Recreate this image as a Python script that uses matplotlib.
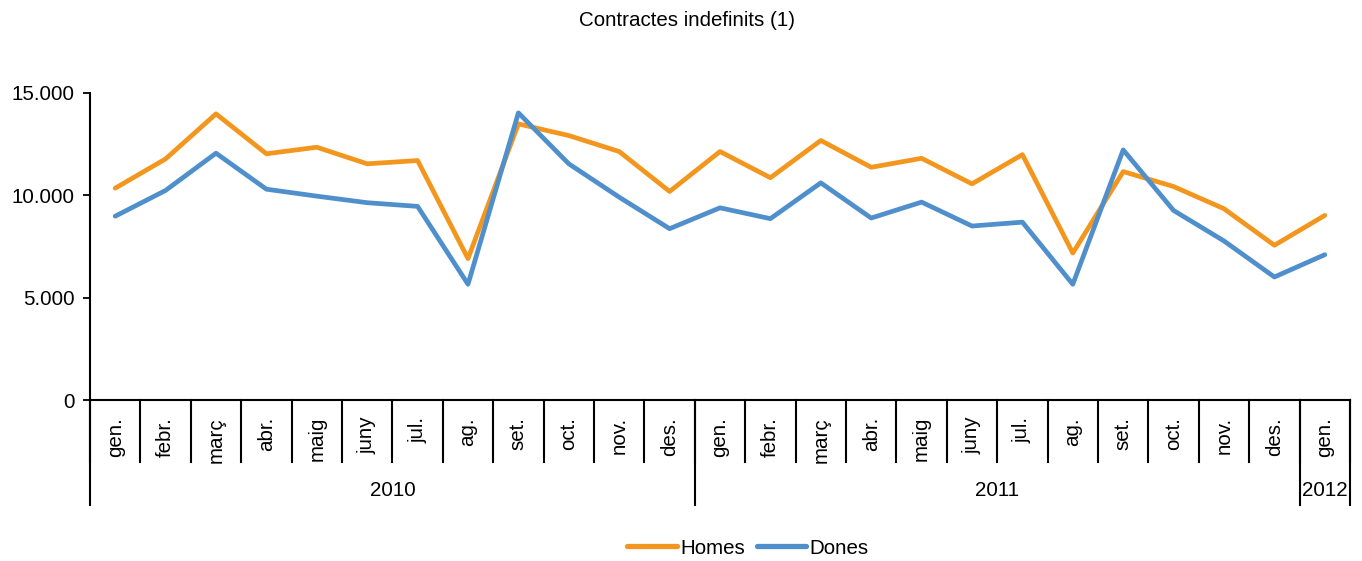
import matplotlib
matplotlib.use("Agg")
import matplotlib.pyplot as plt
import matplotlib.transforms as mtransforms
from matplotlib.lines import Line2D
from matplotlib.ticker import FuncFormatter

plt.rcParams['font.family'] = ['Liberation Sans', 'DejaVu Sans']

title = "Contractes indefinits (1)"
months = ["gen.", "febr.", "març", "abr.", "maig", "juny", "jul.", "ag.", "set.", "oct.", "nov.", "des.",
          "gen.", "febr.", "març", "abr.", "maig", "juny", "jul.", "ag.", "set.", "oct.", "nov.", "des.",
          "gen."]
years = ["2010", "2011", "2012"]
year_counts = [12, 12, 1]
homes = [10350, 11780, 13980, 12030, 12350, 11540, 11700, 6910, 13490, 12920, 12140, 10190,
         12140, 10860, 12680, 11370, 11810, 10560, 11990, 7180, 11160, 10430, 9345, 7560, 9020]
dones = [8980, 10240, 12060, 10300, 9960, 9640, 9460, 5655, 14030, 11540, 9910, 8370,
         9390, 8860, 10610, 8890, 9670, 8500, 8690, 5655, 12220, 9260, 7770, 6010, 7100]
series_names = ["Homes", "Dones"]
colors = ["#F3961E", "#4F8FCB"]

FS = 14.8
fig = plt.figure(figsize=(13.62, 5.61), dpi=100)
ax = fig.add_axes([90/1362, 1-400/561, 1260/1362, 307/561])

x = list(range(len(months)))
ax.plot(x, homes, color=colors[0], lw=3.4, solid_joinstyle='round', solid_capstyle='round',
        label=series_names[0])
ax.plot(x, dones, color=colors[1], lw=3.4, solid_joinstyle='round', solid_capstyle='round',
        label=series_names[1])

ax.set_xlim(-0.5, len(months) - 0.5)
ax.set_ylim(0, 15000)
ax.set_yticks([0, 5000, 10000, 15000])
ax.yaxis.set_major_formatter(FuncFormatter(lambda v, p: f"{int(v):,}".replace(",", ".")))
ax.tick_params(axis='y', length=5, width=1.3, pad=6, labelsize=FS, direction='out')
ax.set_xticks([])
for s in ['top', 'right']:
    ax.spines[s].set_visible(False)
for s in ['left', 'bottom']:
    ax.spines[s].set_linewidth(1.5)
    ax.spines[s].set_color('black')

trans = mtransforms.blended_transform_factory(ax.transData, ax.transAxes)
px = 1.0 / 307  # one pixel in axes fraction (vertical)

# month labels
for i, m in enumerate(months):
    ax.text(i, -17 * px, m, rotation=90, ha='center', va='top', fontsize=FS,
            transform=trans, clip_on=False)

# month dividers
for b in range(len(months) + 1):
    ax.add_line(Line2D([b - 0.5, b - 0.5], [0, -62 * px], transform=trans, color='black',
                       lw=1.5, clip_on=False))

# year dividers and labels
bounds = [0]
for c in year_counts:
    bounds.append(bounds[-1] + c)
for b in bounds:
    ax.add_line(Line2D([b - 0.5, b - 0.5], [0, -105 * px], transform=trans, color='black',
                       lw=1.5, clip_on=False))
for yname, a, b in zip(years, bounds[:-1], bounds[1:]):
    ax.text((a + b) / 2 - 0.5, -90 * px, yname, ha='center', va='center', fontsize=FS,
            transform=trans, clip_on=False)

fig.text(687/1362, 1 - 20/561, title, ha='center', va='center', fontsize=FS)

handles = [Line2D([], [], color=colors[0], lw=3.8, solid_capstyle='round'),
           Line2D([], [], color=colors[1], lw=3.8, solid_capstyle='round')]
fig.legend(handles, series_names, loc='center', bbox_to_anchor=(748/1362, 1 - 548/561), ncol=2,
           frameon=False, fontsize=FS, handlelength=2.4, handletextpad=0.15, columnspacing=0.6,
           borderpad=0)

fig.savefig("out.png", dpi=100)
